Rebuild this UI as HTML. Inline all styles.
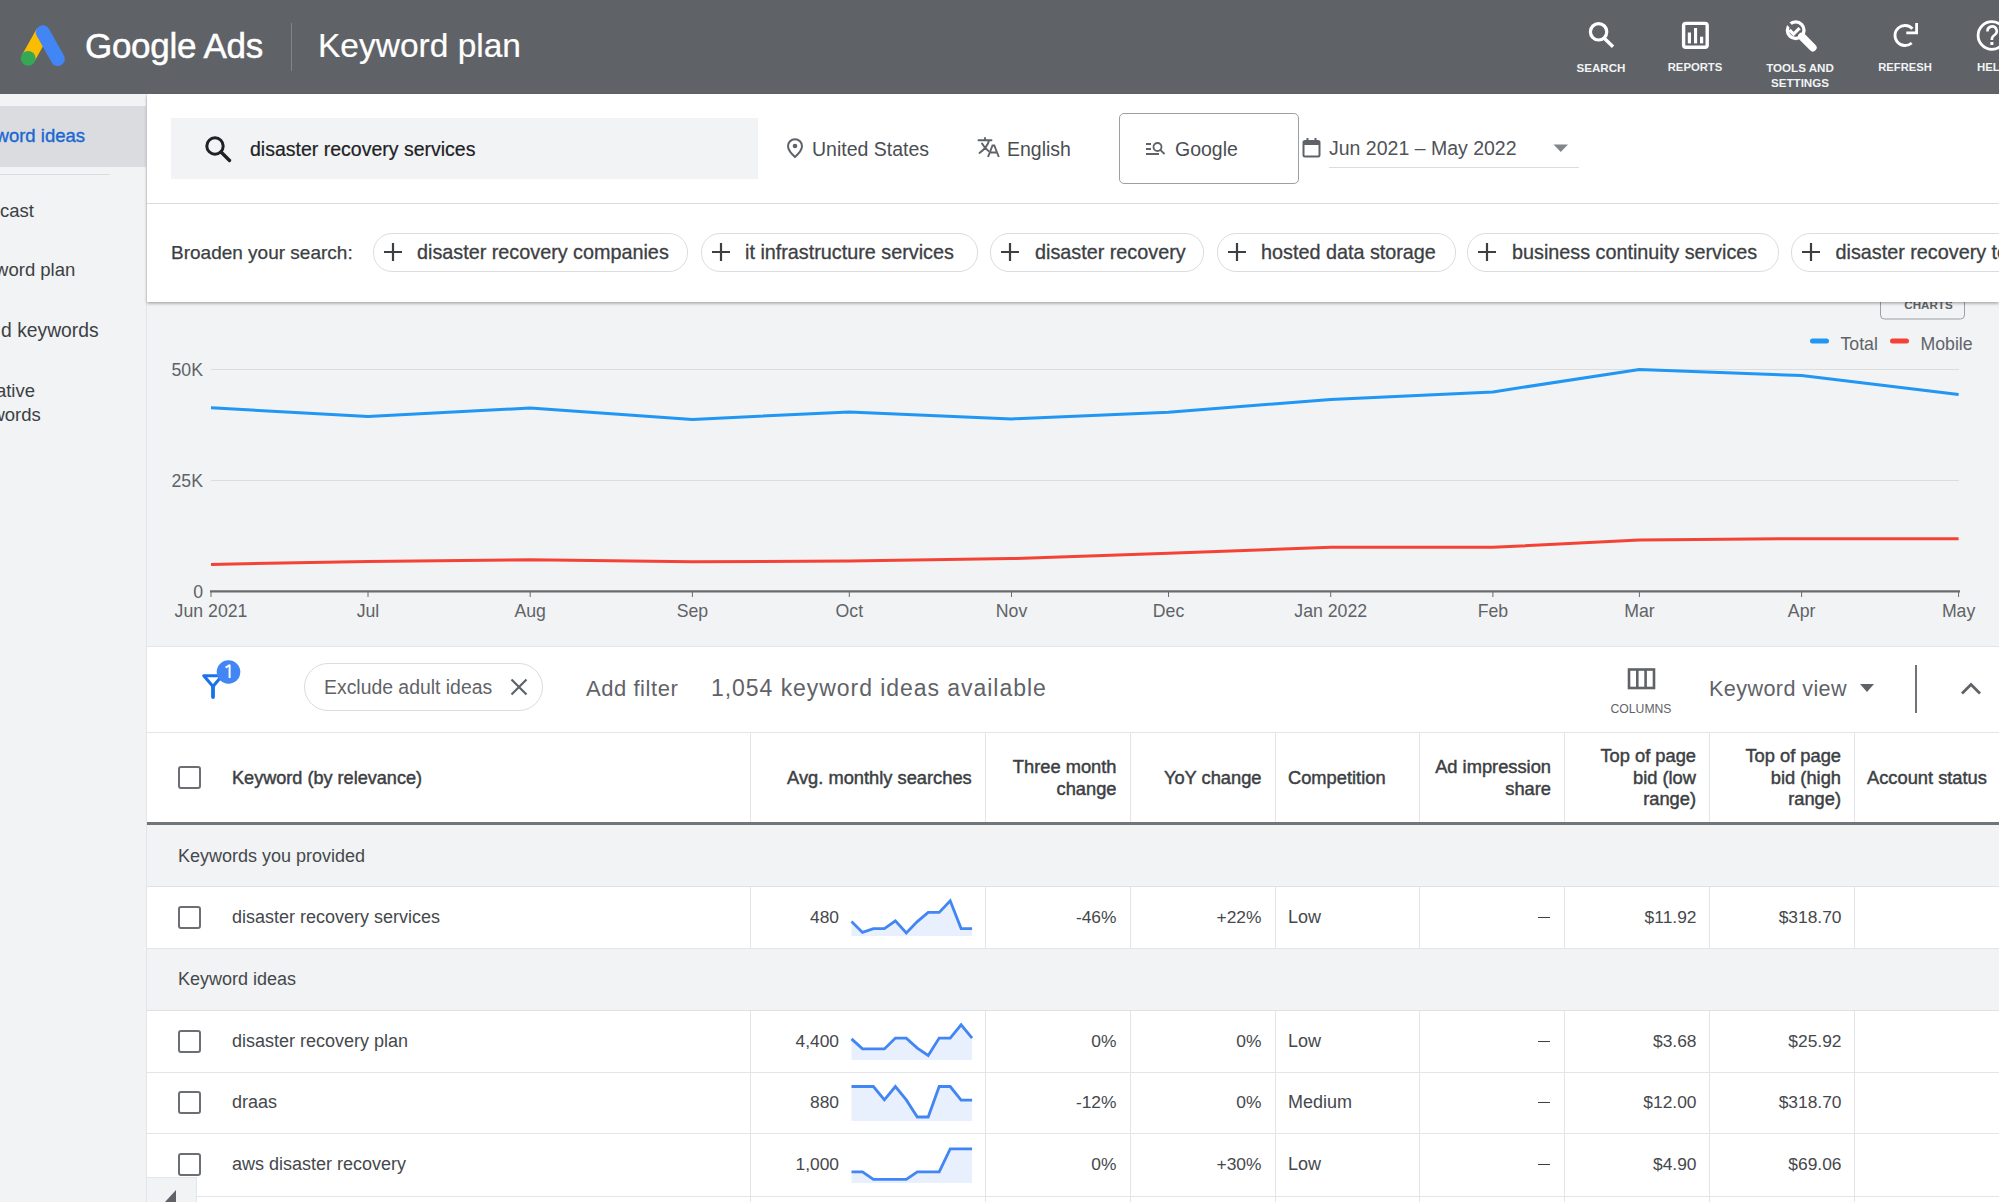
<!DOCTYPE html>
<html><head><meta charset="utf-8">
<style>
*{box-sizing:border-box;margin:0;padding:0}
html,body{width:1999px;height:1202px;overflow:hidden;background:#f1f3f4;font-family:"Liberation Sans",sans-serif;color:#202124}
.a{position:absolute;white-space:nowrap}
#hdr{position:absolute;left:0;top:0;width:1999px;height:94px;background:#5f6368}
#side{position:absolute;left:0;top:94px;width:147px;height:1108px;background:#f1f3f4}
#panel{position:absolute;left:147px;top:94px;width:1852px;height:207.5px;background:#fff;z-index:5;box-shadow:0 1.5px 3px rgba(0,0,0,.32)}
#chart{position:absolute;left:147px;top:301px;width:1852px;height:345px;background:#f1f3f4}
#fbar{position:absolute;left:147px;top:646px;width:1852px;height:86px;background:#fff}
#tbl{position:absolute;left:147px;top:732px;width:1852px;height:470px;background:#fff}
.hic{position:absolute;top:0;height:94px;text-align:center;color:#fff;font-size:11.5px;font-weight:bold;line-height:15px}
.chip{position:absolute;top:139px;height:38.5px;border:1px solid #dadce0;border-radius:19px;font-size:19.8px;color:#3c4043;line-height:37px;-webkit-text-stroke:0.3px #3c4043}
.chip svg{-webkit-text-stroke:0}
.chip svg{position:absolute;left:9px;top:8px}
</style></head><body>
<div id="hdr">
  <svg class="a" style="left:18px;top:24px" width="50" height="44" viewBox="0 0 50 44">
    <path d="M10.2 34.3 L24.8 8.3" stroke="#fbbc04" stroke-width="14" stroke-linecap="butt"/>
    <path d="M24.8 8.3 L39.8 35" stroke="#4285f4" stroke-width="14" stroke-linecap="round"/>
    <circle cx="10.2" cy="34.3" r="7.4" fill="#34a853"/>
  </svg>
  <div class="a" style="left:85px;top:26px;font-size:35px;color:#fff;letter-spacing:-0.3px;-webkit-text-stroke:0.5px #fff">Google Ads</div>
  <div class="a" style="left:290.5px;top:23px;width:1px;height:48px;background:#80868b"></div>
  <div class="a" style="left:318px;top:26.5px;font-size:33.5px;color:#fff;-webkit-text-stroke:0.2px #fff">Keyword plan</div>
  <svg class="a" style="left:1550px;top:0" width="449" height="94" viewBox="1550 0 449 94" fill="none" stroke="#fff">
    <circle cx="1598.6" cy="31.8" r="8.2" stroke-width="3.2"/>
    <path d="M1604.5 38.5 L1613 46.7" stroke-width="3.4"/>
    <rect x="1683.6" y="23.4" width="23.6" height="23.9" rx="2.2" stroke-width="3.4"/>
    <rect x="1687.8" y="32.5" width="3.2" height="10.9" fill="#fff" stroke="none"/>
    <rect x="1694" y="28" width="3.1" height="15.4" fill="#fff" stroke="none"/>
    <rect x="1700" y="36.7" width="3.2" height="6.7" fill="#fff" stroke="none"/>
    <circle cx="1795.7" cy="30.2" r="8.3" stroke-width="3.4"/>
    <path d="M1789.5 30 L1793.6 34.1 L1799.6 28.1" stroke-width="3.2" stroke-linejoin="miter"/>
    <path d="M1786 21.5 L1792.3 27.8" stroke="#5f6368" stroke-width="3.4"/>
    <path d="M1801.8 36.5 L1812.8 47.6" stroke-width="7.6" stroke-linecap="round"/>
    <path d="M1912.43 28.81 A10 10 0 1 0 1911.69 42.93" stroke-width="2.8"/>
    <path d="M1906.3 32.9 H1916.6 V23" stroke-width="2.8" stroke-linecap="butt"/>
    <circle cx="1991.9" cy="35.5" r="13.8" stroke-width="2.8"/>
    <path d="M1987.5 31.5 A4.6 4.6 0 1 1 1994.5 35 C1992 36.5 1991.8 38 1991.8 40" stroke-width="2.6"/>
    <rect x="1990.4" y="42" width="3" height="3" fill="#fff" stroke="none"/>
  </svg>
  <div class="a" style="left:1561px;top:60px;width:80px;text-align:center;color:#f1f3f4;font-size:11.6px;font-weight:bold;line-height:15px">SEARCH</div>
  <div class="a" style="left:1655px;top:60px;width:80px;text-align:center;color:#f1f3f4;font-size:11.3px;font-weight:bold;line-height:15px">REPORTS</div>
  <div class="a" style="left:1750px;top:60px;width:100px;text-align:center;color:#f1f3f4;font-size:11.6px;font-weight:bold;line-height:15px">TOOLS AND<br>SETTINGS</div>
  <div class="a" style="left:1865px;top:60px;width:80px;text-align:center;color:#f1f3f4;font-size:11.2px;font-weight:bold;line-height:15px">REFRESH</div>
  <div class="a" style="left:1977px;top:60px;color:#f1f3f4;font-size:11.4px;font-weight:bold;line-height:15px">HELP</div>
</div>

<div id="side">
  <div class="a" style="left:0;top:12px;width:146px;height:61px;background:#dadce0"></div>
  <div class="a" style="left:0;top:79.5px;width:110px;height:1px;background:#dadce0"></div>
  <div class="a" style="left:145.5px;top:0;width:1.5px;height:1108px;background:#e3e5e8"></div>
  <div class="a" style="right:62.0px;top:29.7px;font-size:18.5px;line-height:23px;color:#1967d2;-webkit-text-stroke:0.35px #1967d2">word ideas</div>
  <div class="a" style="right:113.0px;top:104.7px;font-size:18.5px;line-height:23px;color:#3c4043">cast</div>
  <div class="a" style="right:71.7px;top:164.4px;font-size:18.5px;line-height:23px;color:#3c4043">word plan</div>
  <div class="a" style="right:48.4px;top:225.2px;font-size:19.3px;line-height:23px;color:#3c4043">d keywords</div>
  <div class="a" style="right:112.0px;top:285.1px;font-size:18.5px;line-height:23px;color:#3c4043">ative</div>
  <div class="a" style="right:106.2px;top:308.5px;font-size:18.5px;line-height:23px;color:#3c4043">words</div>
</div>

<div id="panel">
  <div class="a" style="left:24px;top:24px;width:587px;height:61px;background:#f1f3f4"></div>
  <svg class="a" style="left:56px;top:40px" width="30" height="30" viewBox="0 0 30 30"><circle cx="12" cy="12" r="8.2" fill="none" stroke="#202124" stroke-width="3"/><path d="M18 18 L26.5 26.5" stroke="#202124" stroke-width="3.4" stroke-linecap="round"/></svg>
  <div class="a" style="left:103px;top:43.5px;font-size:19.5px;color:#202124;-webkit-text-stroke:0.2px #202124">disaster recovery services</div>
  <svg class="a" style="left:639px;top:43px" width="18" height="22" viewBox="0 0 18 22"><path d="M9 2.2 C5 2.2 2 5.2 2 9.2 C2 13.5 9 20 9 20 C9 20 16 13.5 16 9.2 C16 5.2 13 2.2 9 2.2 Z" fill="none" stroke="#5f6368" stroke-width="2"/><circle cx="9" cy="9" r="2.3" fill="#5f6368"/></svg>
  <div class="a" style="left:665px;top:44px;font-size:19.5px;color:#4a4e52">United States</div>
  <svg class="a" style="left:830px;top:43px" width="24" height="22" viewBox="0 0 24 22"><path d="M1.5 3.3 H14.5 M8 1 V3.3 M12 3.5 C11 8 8 12 2.5 16 M5 6.5 C7 10 9 12 11.5 14" fill="none" stroke="#5f6368" stroke-width="1.9" stroke-linecap="round"/><path d="M11 20 L15.5 8.5 H17.3 L21.8 20 M12.6 15.5 H20" fill="none" stroke="#5f6368" stroke-width="1.9"/></svg>
  <div class="a" style="left:860px;top:44px;font-size:19.5px;color:#4a4e52">English</div>
  <div class="a" style="left:972px;top:19px;width:180px;height:71px;border:1px solid #9aa0a6;border-radius:5px"></div>
  <svg class="a" style="left:998px;top:47px" width="22" height="16" viewBox="0 0 22 16"><path d="M1 3 H6 M1 8 H6 M1 13 H14" stroke="#5f6368" stroke-width="1.8"/><circle cx="12.5" cy="6" r="4" fill="none" stroke="#5f6368" stroke-width="1.8"/><path d="M15.3 8.8 L19 12.5" stroke="#5f6368" stroke-width="1.8" stroke-linecap="round"/></svg>
  <div class="a" style="left:1028px;top:44px;font-size:19.5px;color:#4a4e52">Google</div>
  <svg class="a" style="left:1155px;top:43px" width="20" height="22" viewBox="0 0 20 22"><rect x="1.5" y="4" width="16" height="15.5" rx="1.5" fill="none" stroke="#5f6368" stroke-width="2"/><rect x="1.5" y="4" width="16" height="4" fill="#5f6368"/><rect x="4.5" y="1" width="2" height="4" fill="#5f6368"/><rect x="12.5" y="1" width="2" height="4" fill="#5f6368"/></svg>
  <div class="a" style="left:1182px;top:43px;font-size:19.5px;color:#4f5358">Jun 2021 – May 2022</div>
  <svg class="a" style="left:1406px;top:50px" width="16" height="9" viewBox="0 0 16 9"><path d="M0.5 0.5 H15 L7.75 8 Z" fill="#80868b"/></svg>
  <div class="a" style="left:1182px;top:73px;width:250px;height:1px;background:#dadce0"></div>
  <div class="a" style="left:0;top:109px;width:1852px;height:1px;background:#dadce0"></div>
  <div class="a" style="left:24px;top:148px;font-size:19px;color:#3c4043;-webkit-text-stroke:0.25px #3c4043">Broaden your search:</div>
<div class="chip" style="left:226px;width:315px"><svg width="20" height="20" viewBox="0 0 20 20"><path d="M10 1 V19 M1 10 H19" stroke="#3c4043" stroke-width="2.2"/></svg><span class="a" style="left:43.0px;top:0">disaster recovery companies</span></div>
<div class="chip" style="left:554px;width:277px"><svg width="20" height="20" viewBox="0 0 20 20"><path d="M10 1 V19 M1 10 H19" stroke="#3c4043" stroke-width="2.2"/></svg><span class="a" style="left:43.0px;top:0">it infrastructure services</span></div>
<div class="chip" style="left:843px;width:214px"><svg width="20" height="20" viewBox="0 0 20 20"><path d="M10 1 V19 M1 10 H19" stroke="#3c4043" stroke-width="2.2"/></svg><span class="a" style="left:44.0px;top:0">disaster recovery</span></div>
<div class="chip" style="left:1070px;width:239px"><svg width="20" height="20" viewBox="0 0 20 20"><path d="M10 1 V19 M1 10 H19" stroke="#3c4043" stroke-width="2.2"/></svg><span class="a" style="left:43.0px;top:0">hosted data storage</span></div>
<div class="chip" style="left:1320px;width:312px"><svg width="20" height="20" viewBox="0 0 20 20"><path d="M10 1 V19 M1 10 H19" stroke="#3c4043" stroke-width="2.2"/></svg><span class="a" style="left:44.0px;top:0">business continuity services</span></div>
<div class="chip" style="left:1644px;width:309px"><svg width="20" height="20" viewBox="0 0 20 20"><path d="M10 1 V19 M1 10 H19" stroke="#3c4043" stroke-width="2.2"/></svg><span class="a" style="left:43.5px;top:0">disaster recovery tools</span></div>
</div>

<div id="chart">
<svg class="a" style="left:0;top:0" width="1852" height="345" viewBox="147 301 1852 345" font-family="Liberation Sans" font-size="17.7" fill="#5f6368">
<rect x="1880.5" y="280" width="84" height="39" rx="4" fill="none" stroke="#9aa0a6" stroke-width="1"/>
<text x="1928.5" y="309" font-size="11.6" font-weight="bold" text-anchor="middle" fill="#5f6368">CHARTS</text>
<line x1="211" y1="369.5" x2="1959" y2="369.5" stroke="#dcdcdc" stroke-width="1.2"/>
<line x1="211" y1="480.5" x2="1959" y2="480.5" stroke="#dcdcdc" stroke-width="1.2"/>
<line x1="210" y1="591.3" x2="1960" y2="591.3" stroke="#6b6b6b" stroke-width="2.2"/>
<line x1="211.0" y1="591" x2="211.0" y2="597" stroke="#6b6b6b" stroke-width="1"/>
<line x1="368.0" y1="591" x2="368.0" y2="597" stroke="#6b6b6b" stroke-width="1"/>
<line x1="530.2" y1="591" x2="530.2" y2="597" stroke="#6b6b6b" stroke-width="1"/>
<line x1="692.4" y1="591" x2="692.4" y2="597" stroke="#6b6b6b" stroke-width="1"/>
<line x1="849.3" y1="591" x2="849.3" y2="597" stroke="#6b6b6b" stroke-width="1"/>
<line x1="1011.5" y1="591" x2="1011.5" y2="597" stroke="#6b6b6b" stroke-width="1"/>
<line x1="1168.5" y1="591" x2="1168.5" y2="597" stroke="#6b6b6b" stroke-width="1"/>
<line x1="1330.7" y1="591" x2="1330.7" y2="597" stroke="#6b6b6b" stroke-width="1"/>
<line x1="1492.9" y1="591" x2="1492.9" y2="597" stroke="#6b6b6b" stroke-width="1"/>
<line x1="1639.4" y1="591" x2="1639.4" y2="597" stroke="#6b6b6b" stroke-width="1"/>
<line x1="1801.6" y1="591" x2="1801.6" y2="597" stroke="#6b6b6b" stroke-width="1"/>
<line x1="1958.6" y1="591" x2="1958.6" y2="597" stroke="#6b6b6b" stroke-width="1"/>
<text x="203" y="375.5" text-anchor="end">50K</text>
<text x="203" y="486.5" text-anchor="end">25K</text>
<text x="203" y="597.5" text-anchor="end">0</text>
<text x="211.0" y="616.5" text-anchor="middle">Jun 2021</text>
<text x="368.0" y="616.5" text-anchor="middle">Jul</text>
<text x="530.2" y="616.5" text-anchor="middle">Aug</text>
<text x="692.4" y="616.5" text-anchor="middle">Sep</text>
<text x="849.3" y="616.5" text-anchor="middle">Oct</text>
<text x="1011.5" y="616.5" text-anchor="middle">Nov</text>
<text x="1168.5" y="616.5" text-anchor="middle">Dec</text>
<text x="1330.7" y="616.5" text-anchor="middle">Jan 2022</text>
<text x="1492.9" y="616.5" text-anchor="middle">Feb</text>
<text x="1639.4" y="616.5" text-anchor="middle">Mar</text>
<text x="1801.6" y="616.5" text-anchor="middle">Apr</text>
<text x="1958.6" y="616.5" text-anchor="middle">May</text>
<polyline points="211.0,407.8 368.0,416.4 530.2,408.0 692.4,419.4 849.3,412.0 1011.5,418.9 1168.5,412.2 1330.7,399.5 1492.9,391.9 1639.4,369.4 1801.6,375.6 1958.6,394.6" fill="none" stroke="#2196f3" stroke-width="3" stroke-linejoin="round"/>
<polyline points="211.0,564.4 368.0,561.5 530.2,559.7 692.4,561.8 849.3,561.0 1011.5,558.6 1168.5,553.2 1330.7,547.3 1492.9,547.3 1639.4,539.9 1801.6,538.7 1958.6,538.7" fill="none" stroke="#f44336" stroke-width="3" stroke-linejoin="round"/>
<line x1="1812.5" y1="341" x2="1826.5" y2="341" stroke="#2196f3" stroke-width="5" stroke-linecap="round"/>
<text x="1840.5" y="350">Total</text>
<line x1="1892.5" y1="341" x2="1906.5" y2="341" stroke="#f44336" stroke-width="5" stroke-linecap="round"/>
<text x="1920.5" y="350">Mobile</text>
</svg>
</div>

<div id="fbar">
</div>

<div id="tbl">
</div>
<div id="ov">
<div class="a" style="left:147px;top:646px;width:1852px;height:1px;background:#e3e5e8"></div>
<svg class="a" style="left:199px;top:658px" width="44" height="44" viewBox="199 658 44 44"><path d="M203.8 675.8 H222 L213 686.5 Z" fill="none" stroke="#1a73e8" stroke-width="3.1" stroke-linejoin="round"/><path d="M213 686 V697" stroke="#1a73e8" stroke-width="3.8" stroke-linecap="round"/><circle cx="228.5" cy="672" r="11.8" fill="#4285f4"/><path d="M225.6 667.6 L229.6 665.2 V678" fill="none" stroke="#fff" stroke-width="2" stroke-linejoin="round"/></svg>
<div class="a" style="left:303.5px;top:663px;width:239.5px;height:48px;border:1px solid #dadce0;border-radius:24px"></div>
<div class="a" style="left:324px;top:676px;font-size:19.4px;color:#5f6368;line-height:22px">Exclude adult ideas</div>
<svg class="a" style="left:509px;top:677px" width="20" height="20" viewBox="0 0 20 20"><path d="M2.5 2.5 L17.5 17.5 M17.5 2.5 L2.5 17.5" stroke="#5f6368" stroke-width="2.2"/></svg>
<div class="a" style="left:586px;top:676px;font-size:22px;letter-spacing:0.55px;color:#5f6368;line-height:26px">Add filter</div>
<div class="a" style="left:711px;top:675px;font-size:23px;letter-spacing:0.95px;color:#5f6368;line-height:26px">1,054 keyword ideas available</div>
<svg class="a" style="left:1626px;top:667px" width="31" height="24" viewBox="0 0 31 24"><rect x="3" y="2.5" width="25" height="18.5" fill="none" stroke="#5f6368" stroke-width="2.6"/><path d="M11.3 2.5 V21 M19.6 2.5 V21" stroke="#5f6368" stroke-width="2.6"/></svg>
<div class="a" style="left:1601px;top:702px;width:80px;text-align:center;font-size:12.2px;color:#5f6368;line-height:14px">COLUMNS</div>
<div class="a" style="left:1709px;top:676px;font-size:21.6px;letter-spacing:0.4px;color:#5f6368;line-height:26px">Keyword view</div>
<svg class="a" style="left:1859px;top:683px" width="16" height="10" viewBox="0 0 16 10"><path d="M1 1 H15 L8 9 Z" fill="#5f6368"/></svg>
<div class="a" style="left:1915.3px;top:665px;width:1.4px;height:48px;background:#6f7378"></div>
<svg class="a" style="left:1958px;top:679px" width="26" height="18" viewBox="0 0 26 18"><path d="M4 14.5 L13 5.5 L22 14.5" fill="none" stroke="#5f6368" stroke-width="2.8"/></svg>
<div class="a" style="left:147px;top:731.5px;width:1852px;height:1px;background:#e3e5e8"></div>
<div class="a" style="left:147px;top:822px;width:1852px;height:3px;background:#70757a"></div>
<div class="a" style="left:749.8px;top:732px;width:1px;height:90px;background:#e3e5e8"></div>
<div class="a" style="left:985.0px;top:732px;width:1px;height:90px;background:#e3e5e8"></div>
<div class="a" style="left:1129.5px;top:732px;width:1px;height:90px;background:#e3e5e8"></div>
<div class="a" style="left:1274.8px;top:732px;width:1px;height:90px;background:#e3e5e8"></div>
<div class="a" style="left:1419.3px;top:732px;width:1px;height:90px;background:#e3e5e8"></div>
<div class="a" style="left:1564.4px;top:732px;width:1px;height:90px;background:#e3e5e8"></div>
<div class="a" style="left:1709.2px;top:732px;width:1px;height:90px;background:#e3e5e8"></div>
<div class="a" style="left:1853.9px;top:732px;width:1px;height:90px;background:#e3e5e8"></div>
<div class="a" style="left:177.5px;top:765.5px;width:23.5px;height:23.5px;border:2.6px solid #6b6f73;border-radius:3px"></div>
<div class="a" style="left:232px;top:767.8px;font-size:18.1px;color:#3c4043;-webkit-text-stroke:0.45px #3c4043;line-height:20px">Keyword (by relevance)</div>
<div class="a" style="right:1027.3px;top:766.8px;font-size:18.3px;color:#3c4043;-webkit-text-stroke:0.45px #3c4043;line-height:21.8px;text-align:right">Avg. monthly searches</div>
<div class="a" style="right:882.5px;top:755.8px;font-size:18.3px;color:#3c4043;-webkit-text-stroke:0.45px #3c4043;line-height:21.8px;text-align:right">Three month<br>change</div>
<div class="a" style="right:737.5px;top:766.8px;font-size:18.3px;color:#3c4043;-webkit-text-stroke:0.45px #3c4043;line-height:21.8px;text-align:right">YoY change</div>
<div class="a" style="left:1288px;top:766.8px;font-size:18.3px;color:#3c4043;-webkit-text-stroke:0.45px #3c4043;line-height:21.8px;">Competition</div>
<div class="a" style="right:448.0px;top:755.8px;font-size:18.3px;color:#3c4043;-webkit-text-stroke:0.45px #3c4043;line-height:21.8px;text-align:right">Ad impression<br>share</div>
<div class="a" style="right:303.0px;top:744.8px;font-size:18.3px;color:#3c4043;-webkit-text-stroke:0.45px #3c4043;line-height:21.8px;text-align:right">Top of page<br>bid (low<br>range)</div>
<div class="a" style="right:158.0px;top:744.8px;font-size:18.3px;color:#3c4043;-webkit-text-stroke:0.45px #3c4043;line-height:21.8px;text-align:right">Top of page<br>bid (high<br>range)</div>
<div class="a" style="left:1867px;top:766.8px;font-size:18.3px;color:#3c4043;-webkit-text-stroke:0.45px #3c4043;line-height:21.8px;">Account status</div>
<div class="a" style="left:147px;top:825.0px;width:1852px;height:61.0px;background:#f1f3f4"></div>
<div class="a" style="left:147px;top:886.0px;width:1852px;height:1px;background:#dfe1e5"></div>
<div class="a" style="left:178px;top:844.5px;font-size:18px;color:#45484c;line-height:22px">Keywords you provided</div>
<div class="a" style="left:147px;top:947.5px;width:1852px;height:1px;background:#e3e5e8"></div>
<div class="a" style="left:749.8px;top:887.0px;width:1px;height:60.5px;background:#e3e5e8"></div>
<div class="a" style="left:985.0px;top:887.0px;width:1px;height:60.5px;background:#e3e5e8"></div>
<div class="a" style="left:1129.5px;top:887.0px;width:1px;height:60.5px;background:#e3e5e8"></div>
<div class="a" style="left:1274.8px;top:887.0px;width:1px;height:60.5px;background:#e3e5e8"></div>
<div class="a" style="left:1419.3px;top:887.0px;width:1px;height:60.5px;background:#e3e5e8"></div>
<div class="a" style="left:1564.4px;top:887.0px;width:1px;height:60.5px;background:#e3e5e8"></div>
<div class="a" style="left:1709.2px;top:887.0px;width:1px;height:60.5px;background:#e3e5e8"></div>
<div class="a" style="left:1853.9px;top:887.0px;width:1px;height:60.5px;background:#e3e5e8"></div>
<div class="a" style="left:177.5px;top:905.5px;width:23.5px;height:23.5px;border:2.6px solid #6b6f73;border-radius:3px"></div>
<div class="a" style="left:232px;top:906.0px;font-size:18px;color:#45484c;line-height:22px">disaster recovery services</div>
<div class="a" style="right:1160.0px;top:906.4px;font-size:17.4px;color:#45484c;line-height:22px">480</div>
<div class="a" style="right:882.5px;top:906.4px;font-size:17.4px;color:#45484c;line-height:22px">-46%</div>
<div class="a" style="right:737.5px;top:906.4px;font-size:17.4px;color:#45484c;line-height:22px">+22%</div>
<div class="a" style="left:1288px;top:906.0px;font-size:18px;color:#45484c;line-height:22px">Low</div>
<div class="a" style="left:1538px;top:916.5px;width:12px;height:1.6px;background:#3c4043"></div>
<div class="a" style="right:302.5px;top:906.4px;font-size:17.4px;color:#45484c;line-height:22px">$11.92</div>
<div class="a" style="right:157.5px;top:906.4px;font-size:17.4px;color:#45484c;line-height:22px">$318.70</div>
<svg class="a" style="left:845px;top:882px" width="135" height="70" viewBox="845 882 135 70"><polygon points="851.5,936.0 851.5,921.6 862.5,932.4 873.4,928.6 884.4,928.6 895.4,920.8 906.3,932.9 917.3,921.6 928.2,912.4 939.2,912.4 950.2,900.8 961.1,928.6 972.1,928.6 972.1,936.0" fill="#e8f0fe"/><polyline points="851.5,921.6 862.5,932.4 873.4,928.6 884.4,928.6 895.4,920.8 906.3,932.9 917.3,921.6 928.2,912.4 939.2,912.4 950.2,900.8 961.1,928.6 972.1,928.6" fill="none" stroke="#4285f4" stroke-width="2.8" stroke-linejoin="miter"/></svg>
<div class="a" style="left:147px;top:948.5px;width:1852px;height:61.5px;background:#f1f3f4"></div>
<div class="a" style="left:147px;top:1010.0px;width:1852px;height:1px;background:#dfe1e5"></div>
<div class="a" style="left:178px;top:968.0px;font-size:18px;color:#45484c;line-height:22px">Keyword ideas</div>
<div class="a" style="left:147px;top:1071.5px;width:1852px;height:1px;background:#e3e5e8"></div>
<div class="a" style="left:749.8px;top:1011.0px;width:1px;height:60.5px;background:#e3e5e8"></div>
<div class="a" style="left:985.0px;top:1011.0px;width:1px;height:60.5px;background:#e3e5e8"></div>
<div class="a" style="left:1129.5px;top:1011.0px;width:1px;height:60.5px;background:#e3e5e8"></div>
<div class="a" style="left:1274.8px;top:1011.0px;width:1px;height:60.5px;background:#e3e5e8"></div>
<div class="a" style="left:1419.3px;top:1011.0px;width:1px;height:60.5px;background:#e3e5e8"></div>
<div class="a" style="left:1564.4px;top:1011.0px;width:1px;height:60.5px;background:#e3e5e8"></div>
<div class="a" style="left:1709.2px;top:1011.0px;width:1px;height:60.5px;background:#e3e5e8"></div>
<div class="a" style="left:1853.9px;top:1011.0px;width:1px;height:60.5px;background:#e3e5e8"></div>
<div class="a" style="left:177.5px;top:1029.5px;width:23.5px;height:23.5px;border:2.6px solid #6b6f73;border-radius:3px"></div>
<div class="a" style="left:232px;top:1030.0px;font-size:18px;color:#45484c;line-height:22px">disaster recovery plan</div>
<div class="a" style="right:1160.0px;top:1030.4px;font-size:17.4px;color:#45484c;line-height:22px">4,400</div>
<div class="a" style="right:882.5px;top:1030.4px;font-size:17.4px;color:#45484c;line-height:22px">0%</div>
<div class="a" style="right:737.5px;top:1030.4px;font-size:17.4px;color:#45484c;line-height:22px">0%</div>
<div class="a" style="left:1288px;top:1030.0px;font-size:18px;color:#45484c;line-height:22px">Low</div>
<div class="a" style="left:1538px;top:1040.5px;width:12px;height:1.6px;background:#3c4043"></div>
<div class="a" style="right:302.5px;top:1030.4px;font-size:17.4px;color:#45484c;line-height:22px">$3.68</div>
<div class="a" style="right:157.5px;top:1030.4px;font-size:17.4px;color:#45484c;line-height:22px">$25.92</div>
<svg class="a" style="left:845px;top:1006px" width="135" height="70" viewBox="845 1006 135 70"><polygon points="851.5,1060.0 851.5,1038.9 862.5,1048.9 873.4,1048.9 884.4,1048.9 895.4,1038.1 906.3,1038.1 917.3,1048.1 928.2,1055.5 939.2,1038.1 950.2,1038.1 961.1,1024.8 972.1,1038.1 972.1,1060.0" fill="#e8f0fe"/><polyline points="851.5,1038.9 862.5,1048.9 873.4,1048.9 884.4,1048.9 895.4,1038.1 906.3,1038.1 917.3,1048.1 928.2,1055.5 939.2,1038.1 950.2,1038.1 961.1,1024.8 972.1,1038.1" fill="none" stroke="#4285f4" stroke-width="2.8" stroke-linejoin="miter"/></svg>
<div class="a" style="left:147px;top:1133.3px;width:1852px;height:1px;background:#e3e5e8"></div>
<div class="a" style="left:749.8px;top:1072.0px;width:1px;height:61.3px;background:#e3e5e8"></div>
<div class="a" style="left:985.0px;top:1072.0px;width:1px;height:61.3px;background:#e3e5e8"></div>
<div class="a" style="left:1129.5px;top:1072.0px;width:1px;height:61.3px;background:#e3e5e8"></div>
<div class="a" style="left:1274.8px;top:1072.0px;width:1px;height:61.3px;background:#e3e5e8"></div>
<div class="a" style="left:1419.3px;top:1072.0px;width:1px;height:61.3px;background:#e3e5e8"></div>
<div class="a" style="left:1564.4px;top:1072.0px;width:1px;height:61.3px;background:#e3e5e8"></div>
<div class="a" style="left:1709.2px;top:1072.0px;width:1px;height:61.3px;background:#e3e5e8"></div>
<div class="a" style="left:1853.9px;top:1072.0px;width:1px;height:61.3px;background:#e3e5e8"></div>
<div class="a" style="left:177.5px;top:1090.5px;width:23.5px;height:23.5px;border:2.6px solid #6b6f73;border-radius:3px"></div>
<div class="a" style="left:232px;top:1091.0px;font-size:18px;color:#45484c;line-height:22px">draas</div>
<div class="a" style="right:1160.0px;top:1091.4px;font-size:17.4px;color:#45484c;line-height:22px">880</div>
<div class="a" style="right:882.5px;top:1091.4px;font-size:17.4px;color:#45484c;line-height:22px">-12%</div>
<div class="a" style="right:737.5px;top:1091.4px;font-size:17.4px;color:#45484c;line-height:22px">0%</div>
<div class="a" style="left:1288px;top:1091.0px;font-size:18px;color:#45484c;line-height:22px">Medium</div>
<div class="a" style="left:1538px;top:1101.5px;width:12px;height:1.6px;background:#3c4043"></div>
<div class="a" style="right:302.5px;top:1091.4px;font-size:17.4px;color:#45484c;line-height:22px">$12.00</div>
<div class="a" style="right:157.5px;top:1091.4px;font-size:17.4px;color:#45484c;line-height:22px">$318.70</div>
<svg class="a" style="left:845px;top:1067px" width="135" height="70" viewBox="845 1067 135 70"><polygon points="851.5,1121.0 851.5,1086.5 862.5,1086.5 873.4,1086.5 884.4,1099.9 895.4,1086.5 906.3,1099.9 917.3,1117.0 928.2,1117.0 939.2,1086.5 950.2,1086.5 961.1,1100.1 972.1,1100.1 972.1,1121.0" fill="#e8f0fe"/><polyline points="851.5,1086.5 862.5,1086.5 873.4,1086.5 884.4,1099.9 895.4,1086.5 906.3,1099.9 917.3,1117.0 928.2,1117.0 939.2,1086.5 950.2,1086.5 961.1,1100.1 972.1,1100.1" fill="none" stroke="#4285f4" stroke-width="2.8" stroke-linejoin="miter"/></svg>
<div class="a" style="left:147px;top:1196.3px;width:1852px;height:1px;background:#e3e5e8"></div>
<div class="a" style="left:749.8px;top:1134.0px;width:1px;height:62.3px;background:#e3e5e8"></div>
<div class="a" style="left:985.0px;top:1134.0px;width:1px;height:62.3px;background:#e3e5e8"></div>
<div class="a" style="left:1129.5px;top:1134.0px;width:1px;height:62.3px;background:#e3e5e8"></div>
<div class="a" style="left:1274.8px;top:1134.0px;width:1px;height:62.3px;background:#e3e5e8"></div>
<div class="a" style="left:1419.3px;top:1134.0px;width:1px;height:62.3px;background:#e3e5e8"></div>
<div class="a" style="left:1564.4px;top:1134.0px;width:1px;height:62.3px;background:#e3e5e8"></div>
<div class="a" style="left:1709.2px;top:1134.0px;width:1px;height:62.3px;background:#e3e5e8"></div>
<div class="a" style="left:1853.9px;top:1134.0px;width:1px;height:62.3px;background:#e3e5e8"></div>
<div class="a" style="left:177.5px;top:1152.5px;width:23.5px;height:23.5px;border:2.6px solid #6b6f73;border-radius:3px"></div>
<div class="a" style="left:232px;top:1153.0px;font-size:18px;color:#45484c;line-height:22px">aws disaster recovery</div>
<div class="a" style="right:1160.0px;top:1153.4px;font-size:17.4px;color:#45484c;line-height:22px">1,000</div>
<div class="a" style="right:882.5px;top:1153.4px;font-size:17.4px;color:#45484c;line-height:22px">0%</div>
<div class="a" style="right:737.5px;top:1153.4px;font-size:17.4px;color:#45484c;line-height:22px">+30%</div>
<div class="a" style="left:1288px;top:1153.0px;font-size:18px;color:#45484c;line-height:22px">Low</div>
<div class="a" style="left:1538px;top:1163.5px;width:12px;height:1.6px;background:#3c4043"></div>
<div class="a" style="right:302.5px;top:1153.4px;font-size:17.4px;color:#45484c;line-height:22px">$4.90</div>
<div class="a" style="right:157.5px;top:1153.4px;font-size:17.4px;color:#45484c;line-height:22px">$69.06</div>
<svg class="a" style="left:845px;top:1129px" width="135" height="70" viewBox="845 1129 135 70"><polygon points="851.5,1183.0 851.5,1171.9 862.5,1171.9 873.4,1179.4 884.4,1179.4 895.4,1179.4 906.3,1179.4 917.3,1171.9 928.2,1171.9 939.2,1171.9 950.2,1148.9 961.1,1148.9 972.1,1148.9 972.1,1183.0" fill="#e8f0fe"/><polyline points="851.5,1171.9 862.5,1171.9 873.4,1179.4 884.4,1179.4 895.4,1179.4 906.3,1179.4 917.3,1171.9 928.2,1171.9 939.2,1171.9 950.2,1148.9 961.1,1148.9 972.1,1148.9" fill="none" stroke="#4285f4" stroke-width="2.8" stroke-linejoin="miter"/></svg>
<div class="a" style="left:749.8px;top:1197px;width:1px;height:6px;background:#e3e5e8"></div><div class="a" style="left:985.0px;top:1197px;width:1px;height:6px;background:#e3e5e8"></div><div class="a" style="left:1129.5px;top:1197px;width:1px;height:6px;background:#e3e5e8"></div><div class="a" style="left:1274.8px;top:1197px;width:1px;height:6px;background:#e3e5e8"></div><div class="a" style="left:1419.3px;top:1197px;width:1px;height:6px;background:#e3e5e8"></div><div class="a" style="left:1564.4px;top:1197px;width:1px;height:6px;background:#e3e5e8"></div><div class="a" style="left:1709.2px;top:1197px;width:1px;height:6px;background:#e3e5e8"></div><div class="a" style="left:1853.9px;top:1197px;width:1px;height:6px;background:#e3e5e8"></div>
<div class="a" style="left:145.5px;top:1176.5px;width:51px;height:40px;background:#f1f3f4;border:1px solid #e3e5e8"></div>
<svg class="a" style="left:160px;top:1188px" width="20" height="14" viewBox="0 0 20 14"><path d="M16 2 V14 H5 Z" fill="#5f6368"/></svg>
</div>
</body></html>
